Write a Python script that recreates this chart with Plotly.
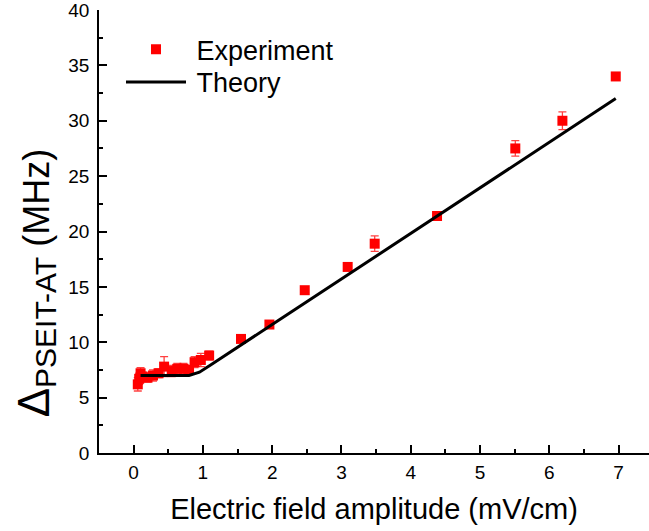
import plotly.graph_objects as go

# Experimental data
exp_x = [0.06, 0.08, 0.10, 0.13, 0.20, 0.28, 0.36, 0.44, 0.55, 0.63, 0.72, 0.80, 0.88, 0.97, 1.09,
         1.55, 1.96, 2.47, 3.09, 3.48, 4.38, 5.51, 6.19, 6.96]
exp_y = [6.2, 6.7, 7.2, 6.9, 6.8, 7.0, 7.2, 7.8, 7.4, 7.6, 7.6, 7.5, 8.2, 8.4, 8.8,
         10.3, 11.6, 14.7, 16.8, 18.9, 21.4, 27.5, 30.0, 34.0]
exp_err = [0.6, 0.5, 0.5, 0.4, 0.4, 0.5, 0.4, 0.9, 0.5, 0.5, 0.5, 0.4, 0.5, 0.6, 0.4,
           0.2, 0.2, 0.1, 0.1, 0.7, 0.2, 0.7, 0.8, 0.3]

# Theory curve
theory_x = [0.10, 0.50, 0.80, 0.95, 1.10, 2.0, 3.0, 4.0, 5.0, 6.0, 6.96]
theory_y = [7.0, 7.0, 7.0, 7.3, 7.9, 11.6, 15.7, 19.8, 23.9, 28.0, 32.0]

x_ticks = [0, 1, 2, 3, 4, 5, 6, 7]
y_ticks = [0, 5, 10, 15, 20, 25, 30, 35, 40]

font_family = "Liberation Sans, Arial, sans-serif"

fig = go.Figure()
fig.add_trace(go.Scatter(
    x=exp_x, y=exp_y, mode="markers", name="\u2009Experiment", legend="legend",
    marker=dict(symbol="square", size=10, color="#FF0000"),
    error_y=dict(type="data", array=exp_err, visible=True,
                 color="rgba(255,0,0,0.75)", thickness=1.3, width=4),
))
fig.add_trace(go.Scatter(
    x=theory_x, y=theory_y, mode="lines", name="\u2009Theory", legend="legend2",
    line=dict(color="black", width=3),
))

leg_common = dict(
    xanchor="left", yanchor="middle",
    bgcolor="rgba(0,0,0,0)", borderwidth=0,
    font=dict(size=27, family=font_family, color="black"),
    itemwidth=60,
)

fig.update_layout(
    width=649, height=531,
    margin=dict(l=99, r=0, t=7, b=78),
    plot_bgcolor="white", paper_bgcolor="white",
    font=dict(family=font_family, color="black"),
    showlegend=True,
    legend=dict(x=0.040, y=0.9105, **leg_common),
    legend2=dict(x=0.040, y=0.8367, **leg_common),
    xaxis=dict(
        range=[-0.5, 7.44], tickvals=x_ticks, ticktext=[str(v) for v in x_ticks],
        showline=True, linecolor="black", linewidth=1.5, mirror=False,
        ticks="inside", ticklen=8, tickwidth=1.5, tickcolor="black",
        minor=dict(dtick=0.5, tick0=0, ticks="inside", ticklen=4, tickwidth=1.5, tickcolor="black"),
        showgrid=False, zeroline=False, ticklabelstandoff=1, ticklabeloverflow="allow",
        tickfont=dict(size=19, family=font_family, color="black"),
        title=dict(text="Electric field amplitude (mV/cm)",
                   font=dict(size=29, family=font_family, color="black"), standoff=17),
    ),
    yaxis=dict(
        range=[0, 40], tickvals=y_ticks, ticktext=[str(v) for v in y_ticks],
        showline=True, linecolor="black", linewidth=1.5, mirror=False,
        ticks="inside", ticklen=8, tickwidth=1.5, tickcolor="black",
        minor=dict(dtick=2.5, tick0=0, ticks="inside", ticklen=4, tickwidth=1.5, tickcolor="black"),
        showgrid=False, zeroline=False, ticklabelstandoff=4, ticklabeloverflow="allow",
        tickfont=dict(size=19, family=font_family, color="black"),
    ),
    annotations=[dict(
        text="<span style='font-size:44px'>Δ</span><sub><span style='font-size:30px'>PSEIT-AT</span></sub> (MHz)",
        xref="paper", yref="paper", x=-0.1145, y=0.383,
        xanchor="center", yanchor="middle", textangle=-90, showarrow=False,
        font=dict(size=36, family=font_family, color="black"),
    )],
)

fig.write_html("out.html")
